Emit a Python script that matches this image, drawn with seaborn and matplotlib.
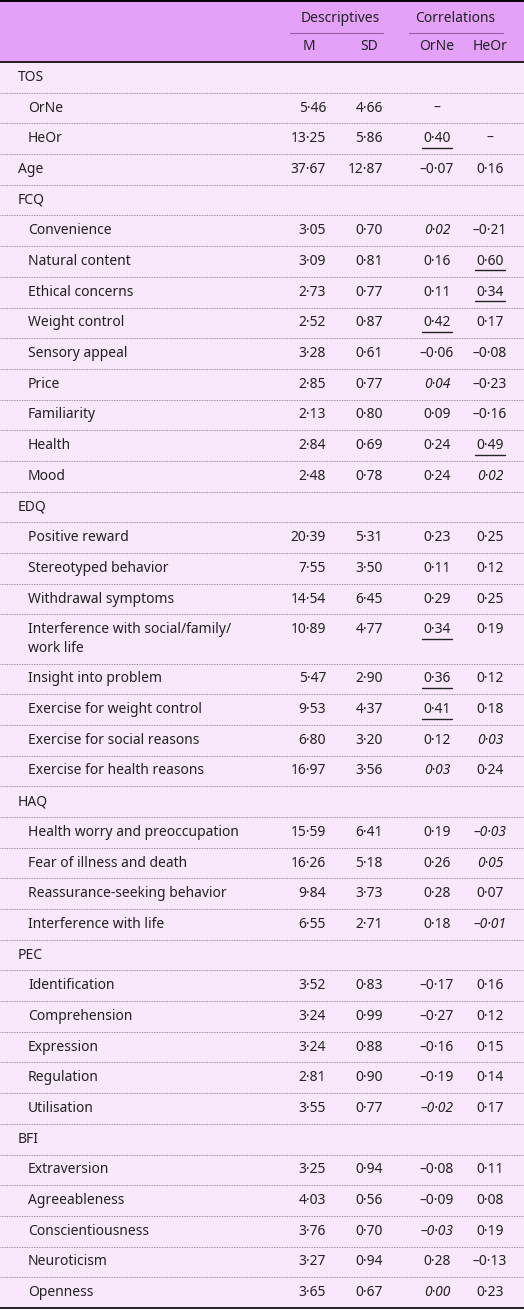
import matplotlib
matplotlib.use("Agg")
import matplotlib.pyplot as plt
import seaborn as sns

sns.set_style("white")
plt.rcParams['font.family'] = ['Noto Sans', 'DejaVu Sans']

labels = ["TOS", "OrNe", "HeOr", "Age", "FCQ", "Convenience", "Natural content", "Ethical concerns",
          "Weight control", "Sensory appeal", "Price", "Familiarity", "Health", "Mood", "EDQ",
          "Positive reward", "Stereotyped behavior", "Withdrawal symptoms",
          "Interference with social/family/\nwork life", "Insight into problem",
          "Exercise for weight control", "Exercise for social reasons", "Exercise for health reasons",
          "HAQ", "Health worry and preoccupation", "Fear of illness and death",
          "Reassurance-seeking behavior", "Interference with life", "PEC", "Identification",
          "Comprehension", "Expression", "Regulation", "Utilisation", "BFI", "Extraversion",
          "Agreeableness", "Conscientiousness", "Neuroticism", "Openness"]
indent = [0, 1, 1, 0, 0, 1, 1, 1, 1, 1, 1, 1, 1, 1, 0, 1, 1, 1, 1, 1, 1, 1, 1, 0, 1, 1, 1, 1,
          0, 1, 1, 1, 1, 1, 0, 1, 1, 1, 1, 1]
M = ["", "5·46", "13·25", "37·67", "", "3·05", "3·09", "2·73", "2·52", "3·28", "2·85", "2·13", "2·84",
     "2·48", "", "20·39", "7·55", "14·54", "10·89", "5·47", "9·53", "6·80", "16·97", "", "15·59",
     "16·26", "9·84", "6·55", "", "3·52", "3·24", "3·24", "2·81", "3·55", "", "3·25", "4·03", "3·76",
     "3·27", "3·65"]
SD = ["", "4·66", "5·86", "12·87", "", "0·70", "0·81", "0·77", "0·87", "0·61", "0·77", "0·80", "0·69",
      "0·78", "", "5·31", "3·50", "6·45", "4·77", "2·90", "4·37", "3·20", "3·56", "", "6·41", "5·18",
      "3·73", "2·71", "", "0·83", "0·99", "0·88", "0·90", "0·77", "", "0·94", "0·56", "0·70", "0·94",
      "0·67"]
r_orne = ["", "–", "0·40", "–0·07", "", "0·02", "0·16", "0·11", "0·42", "–0·06", "0·04", "0·09",
          "0·24", "0·24", "", "0·23", "0·11", "0·29", "0·34", "0·36", "0·41", "0·12", "0·03", "",
          "0·19", "0·26", "0·28", "0·18", "", "–0·17", "–0·27", "–0·16", "–0·19", "–0·02", "",
          "–0·08", "–0·09", "–0·03", "0·28", "0·00"]
r_heor = ["", "", "–", "0·16", "", "–0·21", "0·60", "0·34", "0·17", "–0·08", "–0·23", "–0·16",
          "0·49", "0·02", "", "0·25", "0·12", "0·25", "0·19", "0·12", "0·18", "0·03", "0·24", "",
          "–0·03", "0·05", "0·07", "–0·01", "", "0·16", "0·12", "0·15", "0·14", "0·17", "", "0·11",
          "0·08", "0·19", "–0·13", "0·23"]
# style codes: i = italic, u = underline, b = bold
s_orne = {5: "i", 10: "i", 22: "i", 33: "i", 37: "i", 39: "i",
          2: "u", 8: "u", 18: "u", 19: "u", 20: "u"}
s_heor = {13: "i", 21: "i", 24: "i", 25: "i", 27: "i",
          6: "bu", 7: "u", 12: "u"}

W, H = 524, 1310
fig = plt.figure(figsize=(W / 100, H / 100), dpi=100)
ax = fig.add_axes([0, 0, 1, 1])
ax.set_xlim(0, W)
ax.set_ylim(H, 0)
ax.axis("off")

header_bg = "#e3a2f7"
body_bg = "#f9e8fb"
hdr_bottom = 62
body_bottom = 1308
ax.axhspan(0, hdr_bottom, color=header_bg, zorder=0)
ax.axhspan(hdr_bottom, body_bottom, color=body_bg, zorder=0)
ax.plot([0, W], [1, 1], color="black", lw=1.4)
ax.plot([0, W], [hdr_bottom, hdr_bottom], color="black", lw=1.2)
ax.plot([0, W], [body_bottom, body_bottom], color="black", lw=1.2)

fs = 10
tc = "#222222"
x_m, x_sd, x_or, x_he = 326, 383, 437, 490
ax.text(340, 19, "Descriptives", ha="center", va="center", fontsize=fs, color=tc)
ax.text(455, 19, "Correlations", ha="center", va="center", fontsize=fs, color=tc)
ax.plot([290, 383], [33, 33], color="#9a5aa8", lw=0.8)
ax.plot([409, 503], [33, 33], color="#9a5aa8", lw=0.8)
ax.text(309, 47, "M", ha="center", va="center", fontsize=fs, color=tc)
ax.text(x_sd - 14, 47, "SD", ha="center", va="center", fontsize=fs, color=tc)
ax.text(x_or, 47, "OrNe", ha="center", va="center", fontsize=fs, color=tc)
ax.text(x_he, 47, "HeOr", ha="center", va="center", fontsize=fs, color=tc)

heights = [1.6 if "\n" in l else 1.0 for l in labels]
unit = (body_bottom - hdr_bottom) / sum(heights)


def cell(x, y, s, st):
    if not s:
        return
    style = "italic" if "i" in st else "normal"
    weight = "bold" if "b" in st else "normal"
    ax.text(x, y, s, ha="center", va="center", fontsize=fs, color=tc, style=style, weight=weight)
    if "u" in st:
        ax.plot([x - 15, x + 15], [y + 9, y + 9], color=tc, lw=1.0)


y0 = hdr_bottom
for i, lab in enumerate(labels):
    h = heights[i] * unit
    yc = y0 + (15.3 if heights[i] > 1 else h / 2)
    x_lab = 28 if indent[i] else 18
    if "\n" in lab:
        ax.text(x_lab, yc - 8, lab, ha="left", va="top", fontsize=fs, color=tc, linespacing=1.35)
    else:
        ax.text(x_lab, yc, lab, ha="left", va="center", fontsize=fs, color=tc)
    ax.text(x_m, yc, M[i], ha="right", va="center", fontsize=fs, color=tc)
    ax.text(x_sd, yc, SD[i], ha="right", va="center", fontsize=fs, color=tc)
    cell(x_or, yc, r_orne[i], s_orne.get(i, ""))
    cell(x_he, yc, r_heor[i], s_heor.get(i, ""))
    y0 += h
    if i < len(labels) - 1:
        ax.plot([0, W], [y0, y0], color="#777777", lw=0.6, ls=(0, (1, 1)))

fig.savefig("out.png", dpi=100)
